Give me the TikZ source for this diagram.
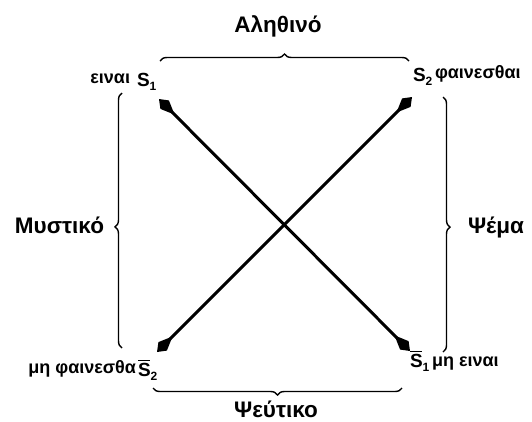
\documentclass[tikz,border=0pt]{standalone}
\usepackage{fontspec}
\setmainfont{Liberation Sans}
\usetikzlibrary{arrows.meta,decorations.pathreplacing}
\newcommand\dgBig{\fontsize{22.5}{24}\selectfont\bfseries}
\newcommand\dgSmall{\fontsize{18}{20}\selectfont\bfseries}
\newcommand\dgSf{\fontsize{19}{21}\selectfont\bfseries}
\newcommand\dgSub{\fontsize{12}{13}\selectfont\bfseries}
\newcommand\dgS[1]{{\dgSf S}\raisebox{-4pt}{\dgSub #1}}
\newcommand\dgSbar[1]{{\dgSf\rlap{\rule[15pt]{12pt}{1.3pt}}S}\raisebox{-4pt}{\dgSub #1}}
\begin{document}
\begin{tikzpicture}[x=1pt,y=-1pt,
  lbl/.style={inner sep=0pt,outer sep=0pt},
  brc/.style={decorate,decoration={brace,amplitude=7pt},line width=1.4pt},
  arr/.style={line width=3pt,
    {Kite[length=22pt,width=12pt,inset=14pt]}-{Kite[length=22pt,width=12pt,inset=14pt]}}]
\useasboundingbox (0,0) rectangle (532,421);

% big labels
\node[lbl,anchor=base] (top) at (278,32) {\dgBig Αληθινό};
\node[lbl,anchor=base east] (left) at (104,233) {\dgBig Μυστικό};
\node[lbl,anchor=base west] (right) at (468,233) {\dgBig Ψέμα};
\node[lbl,anchor=base] (bottom) at (276,417) {\dgBig Ψεύτικο};

% corner symbols
\node[lbl,anchor=base west] (s1) at (137,86) {\dgS{1}};
\node[lbl,anchor=base west] (s2) at (413,81) {\dgS{2}};
\node[lbl,anchor=base west] (s2b) at (138,376) {\dgSbar{2}};
\node[lbl,anchor=base west] (s1b) at (410,367) {\dgSbar{1}};

% corner words
\node[lbl,anchor=base east] (w1) at (130,83) {\dgSmall ειναι};
\node[lbl,anchor=base west] (w2) at (435,78) {\dgSmall φαινεσθαι};
\node[lbl,anchor=base east] (w3) at (136,373) {\dgSmall μη φαινεσθα};
\node[lbl,anchor=base west] (w4) at (432,366) {\dgSmall μη ειναι};

% braces
\draw[brc] (160,61) -- (409,61);
\draw[brc] (402,388) -- (153,388);
\draw[brc,decoration={aspect=0.475}] (122,348) -- (122,93);
\draw[brc,decoration={aspect=0.51}] (443,97) -- (443,352);

% arrows
\coordinate (a1) at (159,99);
\coordinate (a2) at (412,97);
\coordinate (a3) at (157,352);
\coordinate (a4) at (410,351);
\draw[arr] (a1) -- (a4);
\draw[arr] (a3) -- (a2);
\end{tikzpicture}
\end{document}
